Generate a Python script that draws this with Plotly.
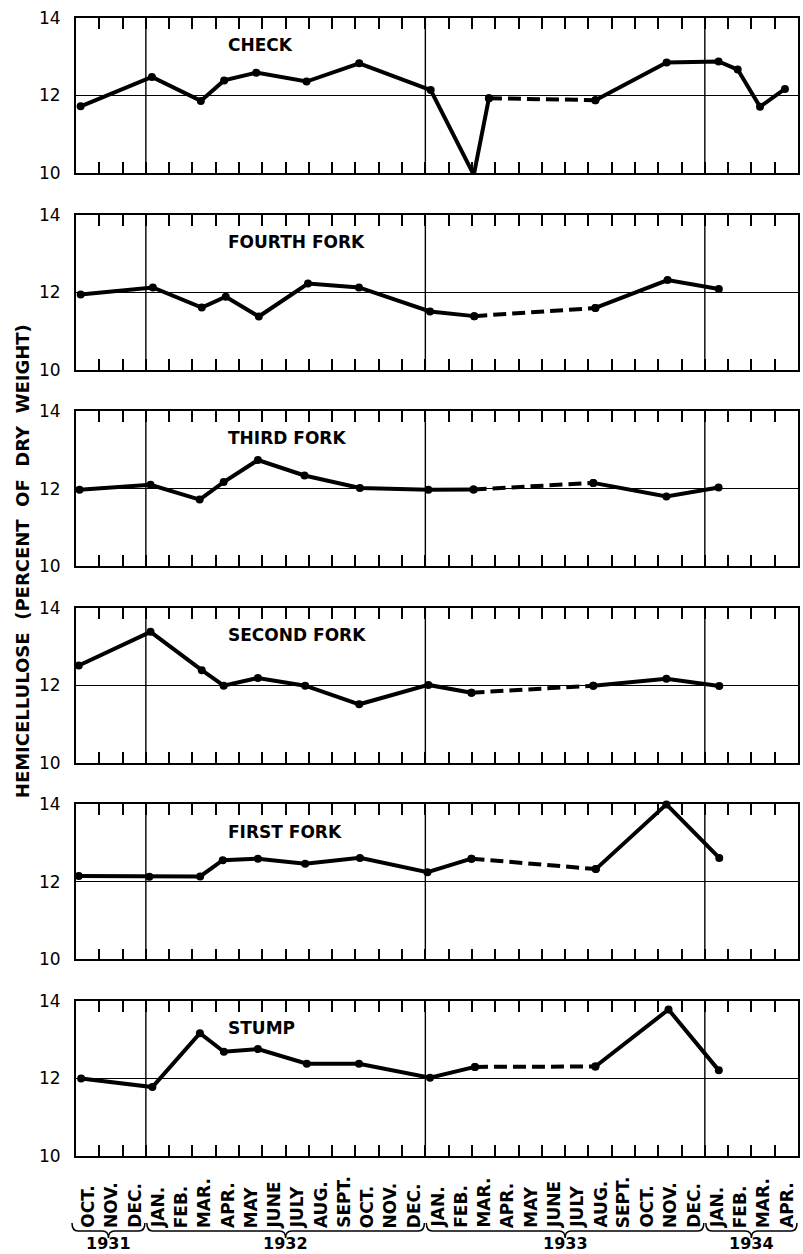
import plotly.graph_objects as go
from plotly.subplots import make_subplots

# ---------------- data ----------------
# x values: months elapsed since 1 Oct 1931 (sampling dates)
month_labels = ["OCT.", "NOV.", "DEC.",
                "JAN.", "FEB.", "MAR.", "APR.", "MAY", "JUNE", "JULY", "AUG.", "SEPT.", "OCT.", "NOV.", "DEC.",
                "JAN.", "FEB.", "MAR.", "APR.", "MAY", "JUNE", "JULY", "AUG.", "SEPT.", "OCT.", "NOV.", "DEC.",
                "JAN.", "FEB.", "MAR.", "APR."]
year_labels = ["1931", "1932", "1933", "1934"]
year_spans = [(0, 3), (3, 15), (15, 27), (27, 31)]
year_starts = [3, 15, 27]

panel_names = ["CHECK", "FOURTH FORK", "THIRD FORK", "SECOND FORK", "FIRST FORK", "STUMP"]

check_x = [0.2, 3.26, 5.36, 6.36, 7.74, 9.9, 12.16, 15.23, 17.08, 17.73, 22.3, 25.36, 27.59, 28.41, 29.37, 30.44]
check_y = [11.72, 12.48, 11.86, 12.39, 12.59, 12.36, 12.83, 12.14, 9.95, 11.93, 11.88, 12.85, 12.88, 12.67, 11.71, 12.17]

fourth_x = [0.2, 3.3, 5.4, 6.43, 7.85, 9.96, 12.15, 15.2, 17.1, 22.3, 25.4, 27.6]
fourth_y = [11.94, 12.12, 11.60, 11.88, 11.37, 12.22, 12.12, 11.50, 11.38, 11.59, 12.31, 12.08]

third_x = [0.15, 3.2, 5.31, 6.34, 7.81, 9.81, 12.19, 15.13, 17.07, 22.21, 25.35, 27.59]
third_y = [11.97, 12.10, 11.72, 12.17, 12.74, 12.34, 12.02, 11.97, 11.98, 12.15, 11.80, 12.03]

second_x = [0.12, 3.2, 5.4, 6.34, 7.81, 9.84, 12.16, 15.13, 16.98, 22.21, 25.35, 27.62]
second_y = [12.51, 13.38, 12.39, 11.99, 12.19, 11.99, 11.51, 12.01, 11.81, 11.99, 12.17, 11.98]

first_x = [0.12, 3.15, 5.33, 6.3, 7.81, 9.84, 12.19, 15.09, 16.98, 22.32, 25.35, 27.62]
first_y = [12.15, 12.13, 12.14, 12.56, 12.60, 12.47, 12.62, 12.25, 12.60, 12.33, 14.0, 12.62]

stump_x = [0.22, 3.28, 5.32, 6.35, 7.81, 9.91, 12.15, 15.2, 17.13, 22.3, 25.44, 27.6]
stump_y = [12.0, 11.78, 13.17, 12.69, 12.76, 12.38, 12.38, 12.02, 12.30, 12.31, 13.78, 12.21]

# index of the point where the dashed (interpolated) segment begins
dash_start = [9, 8, 8, 8, 8, 8]

series_x = [check_x, fourth_x, third_x, second_x, first_x, stump_x]
series_y = [check_y, fourth_y, third_y, second_y, first_y, stump_y]

# ---------------- layout geometry ----------------
W, H = 803, 1254
L, R, T, B = 76, 3, 18, 98
plot_w = W - L - R
plot_h = H - T - B
panel_h = 155
pitch = (plot_h - panel_h) / 5
n_months = len(month_labels)

def py(ypx):
    return (H - B - ypx) / plot_h

def px(xpx):
    return (xpx - L) / plot_w

FONT = "DejaVu Sans"

fig = make_subplots(rows=6, cols=1)

for i in range(6):
    row = i + 1
    xs, ys, d = series_x[i], series_y[i], dash_start[i]
    segs = [(xs[:d + 1], ys[:d + 1], "solid"),
            (xs[d:d + 2], ys[d:d + 2], "13px,6px"),
            (xs[d + 1:], ys[d + 1:], "solid")]
    for sx, sy, dash in segs:
        fig.add_trace(go.Scatter(
            x=sx, y=sy, mode="lines+markers",
            line=dict(color="black", width=4, dash=dash),
            marker=dict(size=8, color="black"),
            cliponaxis=False, showlegend=False, hoverinfo="skip"),
            row=row, col=1)

    top_px = T + i * pitch
    sfx = "" if row == 1 else str(row)
    fig.layout["yaxis" + sfx].update(
        domain=[py(top_px + panel_h), py(top_px)],
        range=[10, 14], tickvals=[10, 12, 14], ticks="",
        showgrid=True, gridcolor="black", gridwidth=1.2,
        showline=True, linecolor="black", linewidth=1.8, mirror=True,
        zeroline=False, ticklabelstandoff=10,
        tickfont=dict(family=FONT, size=17, color="black"))
    fig.layout["xaxis" + sfx].update(
        range=[0, n_months], tickmode="linear", tick0=0, dtick=1,
        ticks="inside", ticklen=11, tickwidth=2, tickcolor="black",
        showticklabels=False, showgrid=False, zeroline=False,
        showline=True, linecolor="black", linewidth=1.8, mirror="ticks")

    for ys_ in year_starts:
        fig.add_shape(type="line", xref="x" + sfx, yref="y" + sfx + " domain",
                      x0=ys_, x1=ys_, y0=0, y1=1,
                      line=dict(color="black", width=1.4))

    fig.add_annotation(xref="x" + sfx, yref="y" + sfx, x=6.45, y=13.3,
                       xanchor="left", yanchor="middle", showarrow=False,
                       text=panel_names[i],
                       font=dict(family=FONT, size=17, color="black", weight="bold"))

# month labels under the bottom panel
for k, lab in enumerate(month_labels):
    fig.add_annotation(xref="x6", yref="paper", x=k + 0.5, y=py(1229),
                       xanchor="center", yanchor="bottom", textangle=-90,
                       showarrow=False, text=lab, borderpad=0,
                       font=dict(family=FONT, size=17, color="black", weight="bold"))

# year braces and labels
mw = plot_w / n_months
for (a, b), yl in zip(year_spans, year_labels):
    xa = px(L + a * mw - 4 if a == 0 else L + a * mw + 1)
    xb = px(L + b * mw - 1)
    xm = (xa + xb) / 2
    c = 6 / plot_w
    y1, y2, y3 = py(1223), py(1231), py(1238)
    path = (f"M {xa},{y1} Q {xa},{y2} {xa + c},{y2} L {xm - c},{y2} "
            f"Q {xm},{y2} {xm},{y3} Q {xm},{y2} {xm + c},{y2} "
            f"L {xb - c},{y2} Q {xb},{y2} {xb},{y1}")
    fig.add_shape(type="path", xref="paper", yref="paper", path=path,
                  line=dict(color="black", width=1.5))
    fig.add_annotation(xref="paper", yref="paper", x=xm, y=py(1244),
                       xanchor="center", yanchor="middle", showarrow=False,
                       text=yl, font=dict(family=FONT, size=16, color="black",
                                          weight="bold"))

# y-axis title
fig.add_annotation(xref="paper", yref="paper", x=px(22), y=py(561),
                   xanchor="center", yanchor="middle", textangle=-90,
                   showarrow=False,
                   text="HEMICELLULOSE\u00a0 (PERCENT\u00a0 OF\u00a0 DRY\u00a0 WEIGHT)",
                   font=dict(family=FONT, size=18, color="black", weight="bold"))

fig.update_layout(width=W, height=H, margin=dict(l=L, r=R, t=T, b=B),
                  plot_bgcolor="white", paper_bgcolor="white",
                  showlegend=False)

fig.write_html("out.html")
